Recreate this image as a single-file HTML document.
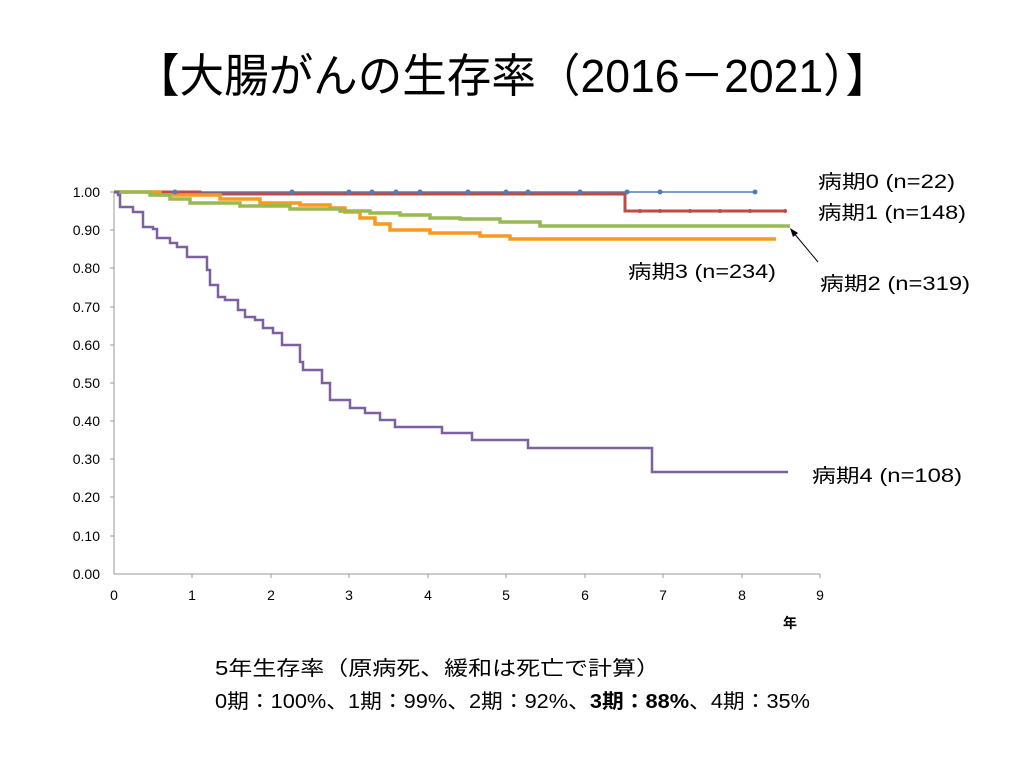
<!DOCTYPE html>
<html><head><meta charset="utf-8"><style>
body{margin:0;background:#fff;width:1024px;height:768px;overflow:hidden}
svg{display:block}
text{font-family:"Liberation Sans","Noto Sans CJK JP",sans-serif}
</style></head><body>
<svg width="1024" height="768" viewBox="0 0 1024 768">
<text x="135" y="92" font-size="46" textLength="755" lengthAdjust="spacingAndGlyphs" fill="#000">【大腸がんの生存率（2016－2021）】</text>
<line x1="114" y1="192" x2="114" y2="574" stroke="#999" stroke-width="1"/>
<line x1="114" y1="574" x2="820" y2="574" stroke="#999" stroke-width="1"/>
<g stroke="#999">
<line x1="110" y1="192" x2="114" y2="192"/><line x1="110" y1="230" x2="114" y2="230"/><line x1="110" y1="268" x2="114" y2="268"/><line x1="110" y1="307" x2="114" y2="307"/><line x1="110" y1="345" x2="114" y2="345"/><line x1="110" y1="383" x2="114" y2="383"/><line x1="110" y1="421" x2="114" y2="421"/><line x1="110" y1="459" x2="114" y2="459"/><line x1="110" y1="497" x2="114" y2="497"/><line x1="110" y1="536" x2="114" y2="536"/>
<line x1="192" y1="574" x2="192" y2="578"/><line x1="271" y1="574" x2="271" y2="578"/><line x1="349" y1="574" x2="349" y2="578"/><line x1="428" y1="574" x2="428" y2="578"/><line x1="506" y1="574" x2="506" y2="578"/><line x1="585" y1="574" x2="585" y2="578"/><line x1="663" y1="574" x2="663" y2="578"/><line x1="742" y1="574" x2="742" y2="578"/><line x1="820" y1="574" x2="820" y2="578"/>
</g>
<g font-size="14" text-anchor="end" fill="#000">
<text x="100" y="197">1.00</text><text x="100" y="235">0.90</text><text x="100" y="273">0.80</text><text x="100" y="312">0.70</text><text x="100" y="350">0.60</text><text x="100" y="388">0.50</text><text x="100" y="426">0.40</text><text x="100" y="464">0.30</text><text x="100" y="502">0.20</text><text x="100" y="541">0.10</text><text x="100" y="579">0.00</text>
</g>
<g font-size="14" text-anchor="middle" fill="#000">
<text x="114" y="600">0</text><text x="192" y="600">1</text><text x="271" y="600">2</text><text x="349" y="600">3</text><text x="428" y="600">4</text><text x="506" y="600">5</text><text x="585" y="600">6</text><text x="663" y="600">7</text><text x="742" y="600">8</text><text x="820" y="600">9</text>
<text x="790" y="628" font-weight="bold">年</text>
</g>
<polyline fill="none" stroke="#4a7ebb" stroke-width="1.5" points="114,192 755,192"/>
<polyline fill="none" stroke="#be4b48" stroke-width="3" points="114,192 200,192 200,194 625,194 625,211 786,211"/>
<polyline fill="none" stroke="#f79a1e" stroke-width="3.5" points="114,192 160,192 160,195 220,195 220,199 260,199 260,203 300,203 300,205 330,205 330,208 345,208 345,212 360,212 360,218 375,218 375,224 390,224 390,230 430,230 430,233 480,233 480,236 510,236 510,239 776,239"/>
<polyline fill="none" stroke="#98b954" stroke-width="3.5" points="114,192 150,192 150,195 170,195 170,199 190,199 190,203 240,203 240,206 290,206 290,209 340,209 340,211 370,211 370,213 400,213 400,215 430,215 430,218 460,218 460,219 500,219 500,222 540,222 540,226 790,226"/>
<polyline fill="none" stroke="#7d60a0" stroke-width="2.5" points="114,192 118,192 118,195 120,195 120,207 133,207 133,212 143,212 143,227 153,227 153,229 157,229 157,238 170,238 170,243 177,243 177,247 187,247 187,257 207,257 207,270 210,270 210,285 218,285 218,297 225,297 225,300 238,300 238,310 245,310 245,317 255,317 255,320 263,320 263,328 273,328 273,333 282,333 282,345 300,345 300,362 303,362 303,370 322,370 322,383 330,383 330,400 350,400 350,408 365,408 365,413 380,413 380,420 395,420 395,427 442,427 442,433 472,433 472,440 528,440 528,448 652,448 652,472 788,472"/>
<g fill="#4a7ebb"><circle cx="175" cy="192" r="2.5"/><circle cx="292" cy="192" r="2.5"/><circle cx="349" cy="192" r="2.5"/><circle cx="372" cy="192" r="2.5"/><circle cx="396" cy="192" r="2.5"/><circle cx="420" cy="192" r="2.5"/><circle cx="468" cy="192" r="2.5"/><circle cx="506" cy="192" r="2.5"/><circle cx="528" cy="192" r="2.5"/><circle cx="580" cy="192" r="2.5"/><circle cx="627" cy="192" r="2.5"/><circle cx="660" cy="192" r="2.5"/><circle cx="755" cy="192" r="2.5"/></g>
<g fill="#be4b48"><circle cx="640" cy="211" r="2"/><circle cx="660" cy="211" r="2"/><circle cx="690" cy="211" r="2"/><circle cx="720" cy="211" r="2"/><circle cx="750" cy="211" r="2"/><circle cx="785" cy="211" r="2"/></g>
<g font-size="19" fill="#000">
<text x="818" y="188" textLength="137" lengthAdjust="spacingAndGlyphs">病期0 (n=22)</text>
<text x="818" y="219" textLength="148" lengthAdjust="spacingAndGlyphs">病期1 (n=148)</text>
<text x="628" y="278" textLength="148" lengthAdjust="spacingAndGlyphs">病期3 (n=234)</text>
<text x="820" y="290" textLength="150" lengthAdjust="spacingAndGlyphs">病期2 (n=319)</text>
<text x="812" y="482" textLength="150" lengthAdjust="spacingAndGlyphs">病期4 (n=108)</text>
</g>
<line x1="818" y1="262" x2="793" y2="232" stroke="#000" stroke-width="1"/>
<polygon points="790,228 798,233 793,237" fill="#000"/>
<text x="215" y="675" font-size="20" textLength="445" lengthAdjust="spacingAndGlyphs" fill="#000">5年生存率（原病死、緩和は死亡で計算）</text>
<text x="215" y="708" font-size="20" textLength="595" lengthAdjust="spacingAndGlyphs" fill="#000">0期：100%、1期：99%、2期：92%、<tspan font-weight="bold">3期：88%</tspan>、4期：35%</text>
</svg>
</body></html>
